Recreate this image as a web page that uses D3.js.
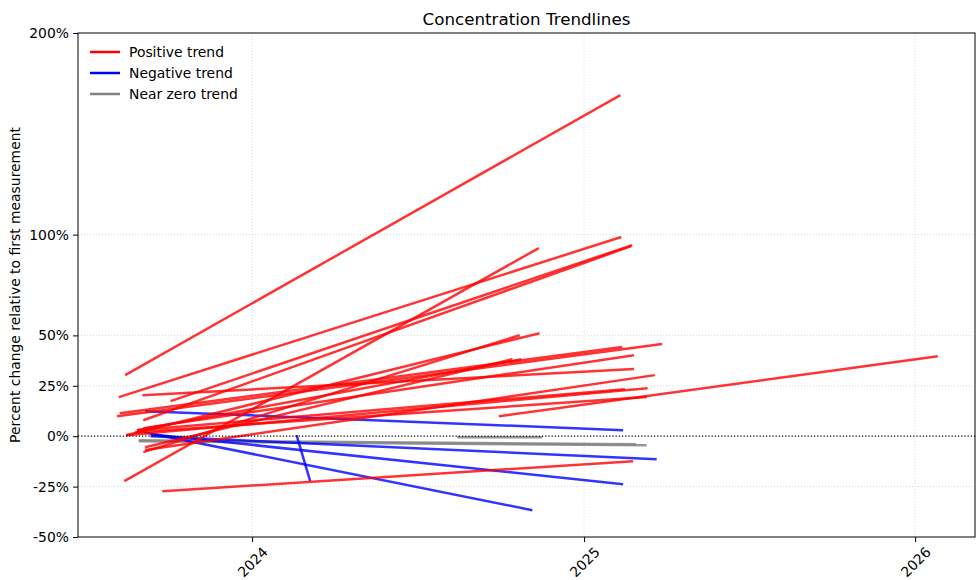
<!DOCTYPE html>
<html>
<head>
<meta charset="utf-8">
<script src="https://cdn.jsdelivr.net/npm/d3@7"></script>
<style>
  body { margin: 0; background: #fff; }
  svg { font-family: "DejaVu Sans", sans-serif; }
</style>
</head>
<body>
<svg id="chart" width="976" height="580"></svg>
<script>
// Trendlines: [start date, start %, end date, end %].
const positiveLines = [
  ['2023-08-14', 30.3, '2025-02-10', 169.2],
  ['2023-08-07', 19.4, '2025-02-11', 98.8],
  ['2023-10-03', 17.4, '2025-02-23', 94.8],
  ['2023-09-03', 7.9, '2025-02-22', 94.3],
  ['2023-08-13', -22.3, '2024-11-12', 93.3],
  ['2023-08-15', 0.5, '2024-11-13', 51.1],
  ['2023-09-03', -7.9, '2024-10-22', 50.1],
  ['2023-09-05', -5.5, '2024-10-14', 38.2],
  ['2023-08-27', 3.0, '2024-10-24', 38.2],
  ['2023-08-05', 9.9, '2025-03-28', 45.7],
  ['2023-08-08', 11.4, '2025-02-12', 44.2],
  ['2023-09-02', 20.3, '2025-02-25', 33.3],
  ['2023-09-03', 4.0, '2025-02-25', 40.2],
  ['2023-09-05', -6.9, '2025-03-20', 30.3],
  ['2023-08-27', 3.0, '2025-02-15', 23.3],
  ['2023-08-15', 0.5, '2025-03-12', 23.8],
  ['2024-09-29', 9.9, '2026-01-26', 39.7],
  ['2023-08-25', 2.0, '2025-03-11', 19.4],
  ['2023-09-24', -27.3, '2025-02-24', -12.4]
];

const negativeLines = [
  ['2023-09-05', 12.4, '2025-02-13', 3.0],
  ['2023-09-04', 2.0, '2024-11-05', -36.7],
  ['2023-09-11', 0.0, '2025-03-22', -11.4],
  ['2023-09-11', 1.0, '2025-02-13', -23.8],
  ['2024-02-19', 0.5, '2024-03-05', -22.3]
];

const nearZeroLines = [
  ['2023-08-29', -2.5, '2025-03-11', -4.5],
  ['2023-08-29', -2.0, '2025-02-27', -4.0],
  ['2024-08-14', -0.5, '2024-11-16', -0.5]
];

const yTicks = [-50, -25, 0, 25, 50, 100, 200];
const xTickDates = ['2024-01-01', '2025-01-01', '2026-01-01'];
const legendLabels = ['Positive trend', 'Negative trend', 'Near zero trend'];
const legendColors = ['red', 'blue', 'gray'];

const svg = d3.select('#chart');
const width = 976, height = 580;
const margin = { top: 33, right: 1, bottom: 43, left: 78 };
const fontSize = 13.9;

const parse = d3.utcParse('%Y-%m-%d');

// Scales.
const xScale = d3.scaleUtc()
  .domain([parse('2023-06-23'), parse('2026-03-08')])
  .range([margin.left, width - margin.right]);

const yScale = d3.scaleLinear()
  .domain([-50, 200])
  .range([height - margin.bottom, margin.top]);

// Grid.
const grid = svg.append('g')
  .attr('stroke', '#cfcfcf')
  .attr('stroke-width', 0.8)
  .attr('stroke-dasharray', '1,2');

grid.selectAll('.hgrid')
  .data(yTicks.filter(t => t !== 0 && t !== -50 && t !== 200))
  .join('line')
  .attr('x1', margin.left).attr('x2', width - margin.right)
  .attr('y1', d => yScale(d)).attr('y2', d => yScale(d));

grid.selectAll('.vgrid')
  .data(xTickDates)
  .join('line')
  .attr('x1', d => xScale(parse(d))).attr('x2', d => xScale(parse(d)))
  .attr('y1', margin.top).attr('y2', height - margin.bottom);

// Trendlines.
const drawLines = (data, color) => {
  svg.append('g')
    .selectAll('line')
    .data(data)
    .join('line')
    .attr('x1', d => xScale(parse(d[0])))
    .attr('y1', d => yScale(d[1]))
    .attr('x2', d => xScale(parse(d[2])))
    .attr('y2', d => yScale(d[3]))
    .attr('stroke', color)
    .attr('stroke-opacity', 0.8)
    .attr('stroke-width', 2.5);
};

drawLines(nearZeroLines, 'gray');
drawLines(negativeLines, 'blue');
drawLines(positiveLines, 'red');

// Zero line.
svg.append('line')
  .attr('x1', margin.left).attr('x2', width - margin.right)
  .attr('y1', yScale(0)).attr('y2', yScale(0))
  .attr('stroke', 'black')
  .attr('stroke-width', 1.2)
  .attr('stroke-dasharray', '1.2,2');

// Y-Axis.
svg.append('g')
  .attr('transform', `translate(${margin.left},0)`)
  .call(d3.axisLeft(yScale).tickValues(yTicks).tickFormat(d => `${d}%`).tickSize(5).tickPadding(4))
  .call(g => g.selectAll('text').attr('font-size', fontSize).attr('fill', '#000').attr('font-family', 'DejaVu Sans'))
  .call(g => g.select('.domain').remove());

// X-Axis.
svg.append('g')
  .attr('transform', `translate(0,${height - margin.bottom})`)
  .call(d3.axisBottom(xScale).tickValues(xTickDates.map(parse)).tickFormat(d3.utcFormat('%Y')).tickSize(5))
  .call(g => g.select('.domain').remove())
  .call(g => g.selectAll('text')
    .attr('font-size', fontSize)
    .attr('font-family', 'DejaVu Sans')
    .attr('fill', '#000')
    .attr('y', 0).attr('dy', null)
    .attr('dominant-baseline', 'central')
    .attr('transform', 'translate(0,25) rotate(-45)'));

// Frame.
svg.append('rect')
  .attr('x', margin.left).attr('y', margin.top)
  .attr('width', width - margin.left - margin.right)
  .attr('height', height - margin.top - margin.bottom)
  .attr('fill', 'none')
  .attr('stroke', 'black')
  .attr('stroke-width', 1);

// Title.
svg.append('text')
  .attr('x', (margin.left + width - margin.right) / 2)
  .attr('y', 25)
  .attr('text-anchor', 'middle')
  .attr('font-size', 16.7)
  .text('Concentration Trendlines');

// Y label.
svg.append('text')
  .attr('transform', `translate(20,${(margin.top + height - margin.bottom) / 2}) rotate(-90)`)
  .attr('text-anchor', 'middle')
  .attr('font-size', fontSize)
  .text('Percent change relative to first measurement');

// Legend.
const legend = svg.append('g').attr('transform', 'translate(90,52)');
legendLabels.forEach((label, i) => {
  legend.append('line')
    .attr('x1', 0).attr('x2', 30)
    .attr('y1', i * 21).attr('y2', i * 21)
    .attr('stroke', legendColors[i])
    .attr('stroke-width', 2.5);
  legend.append('text')
    .attr('x', 39).attr('y', i * 21)
    .attr('dominant-baseline', 'central')
    .attr('font-size', fontSize)
    .text(label);
});
</script>
</body>
</html>
